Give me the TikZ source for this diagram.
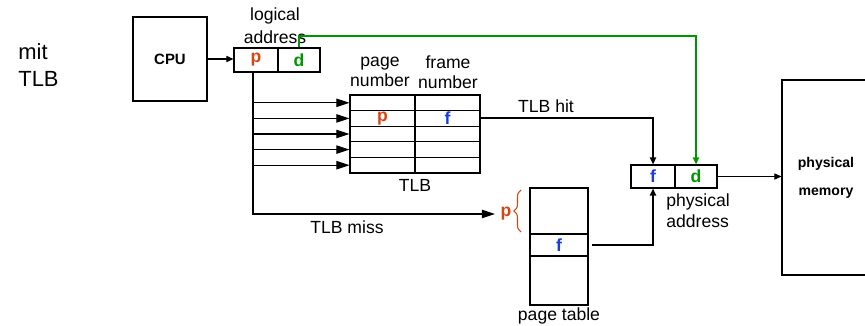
\documentclass[tikz,border=0pt]{standalone}
\usepackage{fontspec}
\setmainfont{Liberation Sans}
\usetikzlibrary{arrows.meta}
\usetikzlibrary{decorations.pathreplacing}
\definecolor{pred}{RGB}{215,70,15}
\definecolor{pblue}{RGB}{25,60,225}
\definecolor{pgreen}{RGB}{0,150,0}

\tikzset{
	txt/.style={font=\fontsize{10}{12}\selectfont, align=center, inner sep=0},
	bold/.style={font=\fontsize{10}{12}\selectfont\bfseries, inner sep=0},
	cell/.style={draw, line width=0.6pt, inner sep=0, minimum height=0.46cm},
	tlbrow/.style={cell, minimum width=1.3cm, minimum height=0.312cm},
	ptrow/.style={cell, minimum width=1.16cm},
	bigarrow/.style={-{Triangle[length=7.5pt,width=4.8pt]}, line width=0.6pt},
	thinarrow/.style={-{Triangle[length=4pt,width=3.5pt]}, line width=0.6pt},
}

\begin{document}
\begin{tikzpicture}[x=0.02cm,y=-0.02cm]
	\useasboundingbox (0,0) rectangle (865,325);
	
	\node[txt, font=\fontsize{12.5}{15}\selectfont, align=left, anchor=west] (title) at (18,65) {mit\\TLB};
	
	% cpu and logical address
	\node[draw, line width=0.6pt, minimum width=1.48cm, minimum height=1.68cm, font=\fontsize{8.5}{10}\selectfont\bfseries] (cpu) at (170,59) {CPU};
	\node[cell, minimum width=0.88cm, minimum height=0.48cm] (lp) at (256,60) {};
	\node[cell, minimum width=0.84cm, minimum height=0.48cm] (ld) at (299,60) {};
	\node[bold, pred] at (lp) {p};
	\node[bold, pgreen] at (ld) {d};
	\node[txt, font=\fontsize{10}{13}\selectfont] (logaddr) at (275,25.5) {logical\\address};
	
	% TLB
	\foreach \i in {1,...,5} {
		\node[tlbrow] (t\i a) at (382.5,{95+15.6*(\i-0.5)}) {};
		\node[tlbrow] (t\i b) at (447.5,{95+15.6*(\i-0.5)}) {};
	}
	\node[bold, pred] at (t2a) {p};
	\node[bold, pblue] at (t2b) {f};
	\node[txt, font=\fontsize{10}{11.5}\selectfont] (pagenum) at (380,72) {page\\number};
	\node[txt, font=\fontsize{10}{11.5}\selectfont] (framenum) at (448,72) {frame\\number};
	\node[txt] (tlb) at (415,185) {TLB};
	
	% page table
	\node[ptrow, minimum height=0.92cm] (pt1) at (559,211) {};
	\node[ptrow, minimum height=0.44cm] (pt2) at (559,245) {};
	\node[ptrow, minimum height=0.98cm] (pt3) at (559,280.5) {};
	\node[bold, pblue] at (pt2) {f};
	\node[txt] (ptab) at (559,316) {page table};
	\draw[pred, line width=0.6pt, decorate, decoration={brace, amplitude=4pt}] (521,232) -- (521,190);
	\node[bold, pred, inner sep=3pt] (pp) at (506,214) {p};
	
	% physical address and memory
	\node[cell, minimum width=0.88cm] (pf) at (653,176.5) {};
	\node[cell, minimum width=0.84cm] (pd) at (696,176.5) {};
	\node[bold, pblue] at (pf) {f};
	\node[bold, pgreen] at (pd) {d};
	\node[txt, align=left, anchor=west, font=\fontsize{10}{12}\selectfont] (physaddr) at (666,210.5) {physical\\address};
	\node[draw, line width=0.6pt, minimum width=1.76cm, minimum height=3.9cm, align=center, font=\fontsize{8}{16}\selectfont\bfseries] (mem) at (826,177.5) {physical\\memory};
	
	% connections
	\coordinate (gtop) at (300,36);
	\coordinate (pdown) at ([xshift=-1.7pt]lp.south);
	\draw[thinarrow] (cpu.east) -- (cpu.east -| lp.west);
	\draw[bigarrow] (pdown) |- (pp.west);
	\foreach \i in {1,...,5}
		\draw[bigarrow] (pdown |- t\i a.west) -- (t\i a.west);
	\draw[thinarrow, line width=1.1pt] (t2b.east) -| node[txt, pos=0.19, above=3pt] {TLB hit} (pf.north);
	\draw[thinarrow, line width=1.1pt] ([xshift=2pt]pt2.east) -| (pf.south);
	\draw[thinarrow, pgreen, line width=1pt] (ld.north) -- (ld.north |- gtop) -| (pd.north);
	\draw[thinarrow] (pd.east) -- (pd.east -| mem.west);
	\node[txt] (miss) at (347,227) {TLB miss};
\end{tikzpicture}
\end{document}
